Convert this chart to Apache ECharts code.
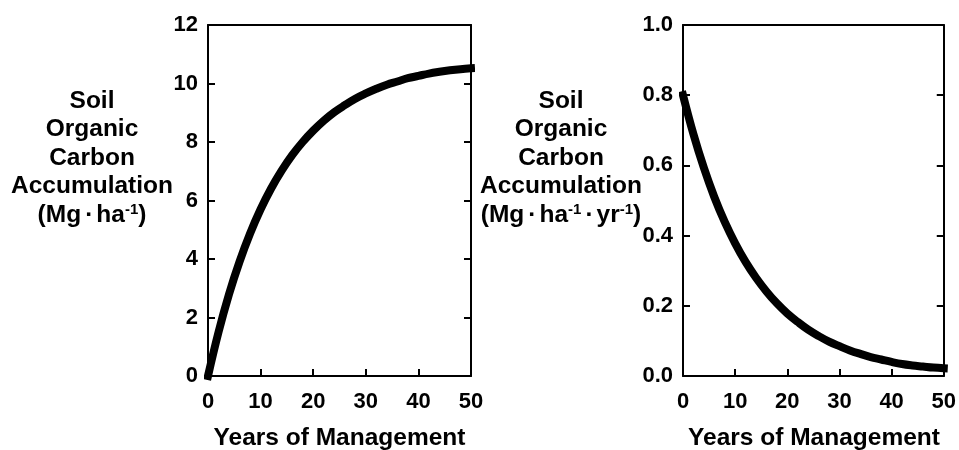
<!DOCTYPE html>
<html>
<head>
<meta charset="utf-8">
<script src="https://cdn.jsdelivr.net/npm/echarts@6/dist/echarts.min.js"></script>
<style>
  html, body { margin: 0; padding: 0; background: #fff; }
  #chart { width: 959px; height: 450px; }
</style>
</head>
<body>
<div id="chart"></div>
<script>
// Years since the management change
const years = [0, 2, 4, 6, 8, 10, 12, 14, 16, 18, 20, 22, 24, 26, 28, 30, 32, 34, 36, 38, 40, 42, 44, 46, 48, 50];
// Cumulative soil organic carbon gain (Mg ha-1)
const socStock = [0, 1.50, 2.80, 3.91, 4.87, 5.70, 6.41, 7.02, 7.55, 8.00, 8.39, 8.73, 9.02, 9.26, 9.48, 9.66,
  9.82, 9.96, 10.07, 10.18, 10.26, 10.34, 10.40, 10.45, 10.49, 10.52];
// Annual soil organic carbon accumulation rate (Mg ha-1 yr-1)
const socRate = [0.800, 0.689, 0.593, 0.510, 0.439, 0.378, 0.325, 0.280, 0.241, 0.207, 0.178, 0.154, 0.132,
  0.114, 0.098, 0.085, 0.073, 0.063, 0.054, 0.047, 0.040, 0.034, 0.030, 0.027, 0.024, 0.022];

// Axis ranges
const xTicks = [0, 10, 20, 30, 40, 50];
const stockTicks = [0, 2, 4, 6, 8, 10, 12];
const rateTicks = [0.0, 0.2, 0.4, 0.6, 0.8, 1.0];

// Axis titles
const yTitleLines = ['Soil', 'Organic', 'Carbon', 'Accumulation'];
const stockUnit = '(Mg{d|·}ha{s|-1})';
const rateUnit = '(Mg{d|·}ha{s|-1}{d|·}yr{s|-1})';
const xTitle = 'Years of Management';

const FONT = '"Liberation Sans", Arial, Helvetica, sans-serif';
const BLACK = '#000';
const TICK_FONT = 22;
const TITLE_FONT = 'bold 24.5px ' + FONT;

function xAxes(grid) {
  const base = {
    gridIndex: grid, type: 'value',
    min: xTicks[0], max: xTicks[xTicks.length - 1], interval: xTicks[1] - xTicks[0],
    splitLine: { show: false }
  };
  return [
    Object.assign({}, base, {
      position: 'bottom',
      axisLine: { onZero: false, lineStyle: { color: BLACK, width: 2 } },
      axisTick: { inside: true, length: 7, lineStyle: { color: BLACK, width: 2 } },
      axisLabel: { color: BLACK, fontFamily: FONT, fontWeight: 'bold', fontSize: TICK_FONT, margin: 15 }
    }),
    Object.assign({}, base, {
      position: 'top',
      axisLine: { onZero: false, lineStyle: { color: BLACK, width: 2 } },
      axisTick: { show: false },
      axisLabel: { show: false }
    })
  ];
}

function yAxes(grid, ticks, fmt) {
  const base = {
    gridIndex: grid, type: 'value',
    min: ticks[0], max: ticks[ticks.length - 1], interval: ticks[1] - ticks[0],
    splitLine: { show: false },
    axisLine: { onZero: false, lineStyle: { color: BLACK, width: 2 } },
    axisTick: { inside: true, length: 7, lineStyle: { color: BLACK, width: 2 } }
  };
  return [
    Object.assign({}, base, {
      position: 'left',
      axisLabel: { color: BLACK, fontFamily: FONT, fontWeight: 'bold', fontSize: TICK_FONT, margin: 10, formatter: fmt }
    }),
    Object.assign({}, base, { position: 'right', axisLabel: { show: false } })
  ];
}

function curve(xi, yi, values) {
  return {
    type: 'line', xAxisIndex: xi, yAxisIndex: yi,
    data: years.map((t, i) => [t, values[i]]),
    showSymbol: false, smooth: 0.4, clip: false, silent: true,
    lineStyle: { color: BLACK, width: 8, cap: 'square', join: 'round' }
  };
}

const richStyles = {
  d: { fontFamily: FONT, fontWeight: 'bold', fontSize: 24.5, padding: [0, 3, 0, 4] },
  s: { fontFamily: FONT, fontWeight: 'bold', fontSize: 15, verticalAlign: 'top' }
};

function titleBlock(cx, unit) {
  const lineYs = [101, 129.5, 158, 186.5, 215];
  const els = yTitleLines.map((t, i) => ({
    type: 'text', x: cx, y: lineYs[i], silent: true,
    style: { text: t, font: TITLE_FONT, fill: BLACK, textAlign: 'center', textVerticalAlign: 'middle' }
  }));
  els.push({
    type: 'text', x: cx, y: lineYs[4], silent: true,
    style: { text: unit, font: TITLE_FONT, fill: BLACK, textAlign: 'center', textVerticalAlign: 'middle', rich: richStyles }
  });
  return els;
}

const chart = echarts.init(document.getElementById('chart'), null, { renderer: 'canvas' });
chart.setOption({
  animation: false,
  backgroundColor: '#fff',
  grid: [
    { left: 208, top: 25, width: 263, height: 351 },
    { left: 683, top: 25, width: 262, height: 351 }
  ],
  xAxis: xAxes(0).concat(xAxes(1)),
  yAxis: yAxes(0, stockTicks, v => String(v)).concat(yAxes(1, rateTicks, v => v.toFixed(1))),
  series: [curve(0, 0, socStock), curve(2, 2, socRate)],
  graphic: [].concat(
    titleBlock(92, stockUnit),
    titleBlock(561, rateUnit),
    [
      { type: 'text', x: 339.5, y: 438, silent: true,
        style: { text: xTitle, font: TITLE_FONT, fill: BLACK, textAlign: 'center', textVerticalAlign: 'middle' } },
      { type: 'text', x: 814, y: 438, silent: true,
        style: { text: xTitle, font: TITLE_FONT, fill: BLACK, textAlign: 'center', textVerticalAlign: 'middle' } }
    ]
  )
});
</script>
</body>
</html>
